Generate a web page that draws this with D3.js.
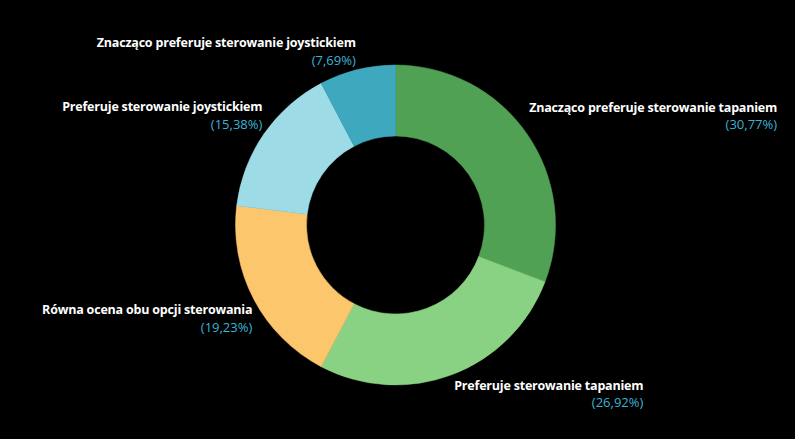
<!DOCTYPE html>
<html><head><meta charset="utf-8">
<script src="https://cdn.jsdelivr.net/npm/d3@7"></script>
<style>html,body{margin:0;padding:0;background:#000;}svg{display:block;}</style>
</head><body>
<svg id="chart" width="795" height="439"></svg>
<script>
const categories = [
  "Znacząco preferuje sterowanie tapaniem",
  "Preferuje sterowanie tapaniem",
  "Równa ocena obu opcji sterowania",
  "Preferuje sterowanie joystickiem",
  "Znacząco preferuje sterowanie joystickiem"
];
const values = [30.77, 26.92, 19.23, 15.38, 7.69];
const percentLabels = ["(30,77%)", "(26,92%)", "(19,23%)", "(15,38%)", "(7,69%)"];
const colors = ["#50a153", "#8ad283", "#fcc66d", "#9ddbe6", "#3ea8bf"];

const svg = d3.select("#chart");
const W = 795, H = 439;
svg.append("rect").attr("width", W).attr("height", H).attr("fill", "#000");
const cx = 395.5, cy = 225, R = 160, r = 89;
const g = svg.append("g").attr("transform", `translate(${cx},${cy})`);

const data = categories.map((c, i) => ({name: c, value: values[i], pct: percentLabels[i], color: colors[i]}));
const pie = d3.pie().value(d => d.value).sort(null);
const arc = d3.arc().innerRadius(r).outerRadius(R);
const labelArc = d3.arc().innerRadius(R).outerRadius(R);
const arcs = pie(data);

g.selectAll("path.slice").data(arcs).join("path")
  .attr("class", "slice")
  .attr("d", arc)
  .attr("fill", d => d.data.color)
  .attr("stroke", d => d.data.color)
  .attr("stroke-width", 0.5);

const font = "'Open Sans', 'DejaVu Sans', sans-serif";
arcs.forEach(a => {
  const [px, py] = labelArc.centroid(a);
  const mid = (a.startAngle + a.endAngle) / 2;
  const right = Math.sin(mid) > 0;
  const upper = Math.cos(mid) > 0;
  const lg = g.append("g");
  const name = lg.append("text")
    .attr("font-family", font).attr("font-weight", 700).attr("font-size", 12.5)
    .attr("letter-spacing", -0.2)
    .attr("fill", "#ffffff").attr("text-anchor", "end").text(a.data.name);
  const pct = lg.append("text")
    .attr("font-family", font).attr("font-size", 13)
    .attr("fill", "#3ab3d5").attr("text-anchor", "end").text(a.data.pct);
  const w = name.node().getComputedTextLength();
  const xr = right ? px + 2 + w : px - 1.5;
  let nameY, pctY;
  if (upper) { pctY = py - 5; nameY = pctY - 17.6; }
  else { nameY = py + 15; pctY = nameY + 17.6; }
  name.attr("x", xr).attr("y", nameY);
  pct.attr("x", xr).attr("y", pctY);
});
</script>
</body></html>
